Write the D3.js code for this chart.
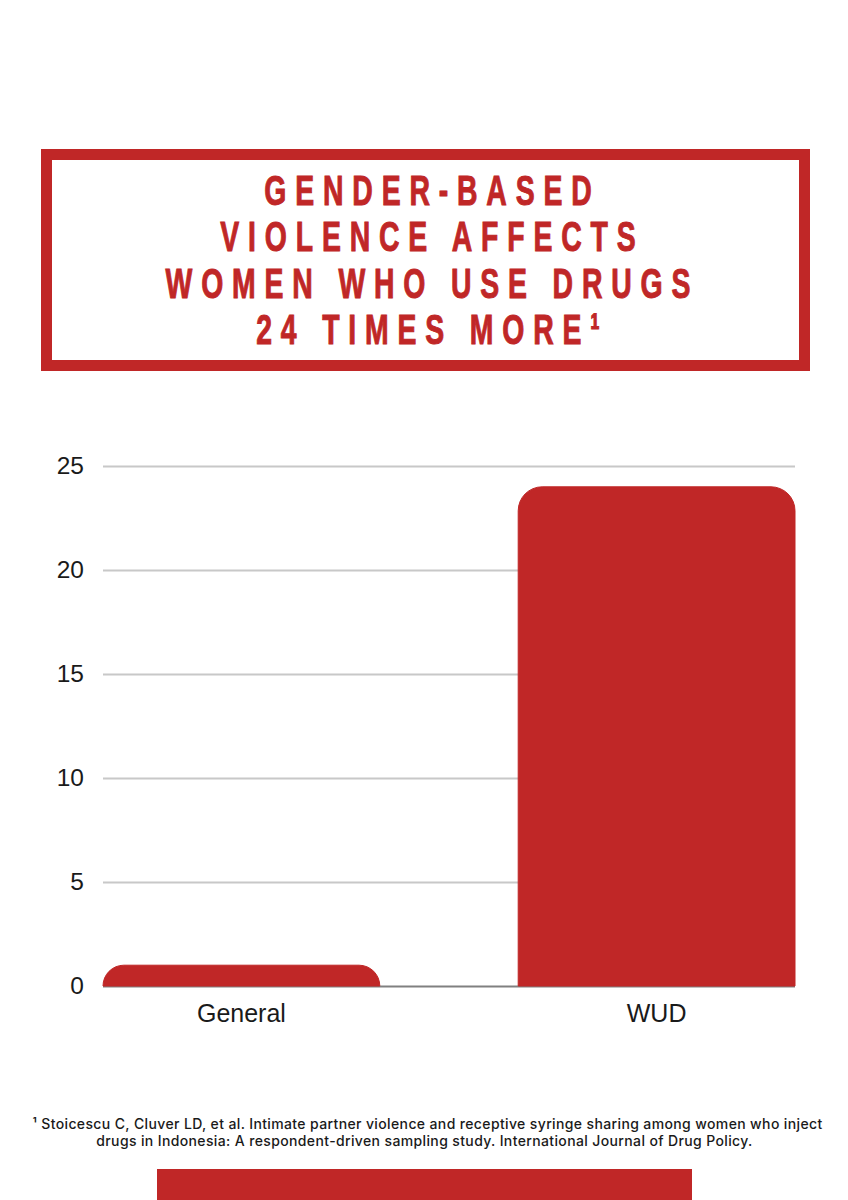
<!DOCTYPE html>
<html>
<head>
<meta charset="utf-8">
<script src="https://cdn.jsdelivr.net/npm/d3@7"></script>
<style>
html, body { margin: 0; padding: 0; background: #fff; }
svg { display: block; }
</style>
</head>
<body>
<div id="chart"></div>
<script>
// Chart data
const categories = ["General", "WUD"];
const values = [1, 24];
const yTicks = [0, 5, 10, 15, 20, 25];
const titleLines = ["GENDER-BASED", "VIOLENCE AFFECTS", "WOMEN WHO USE DRUGS", "24 TIMES MORE¹"];
const footnoteLines = [
    "¹ Stoicescu C, Cluver LD, et al. Intimate partner violence and receptive syringe sharing among women who inject",
    "drugs in Indonesia: A respondent-driven sampling study. International Journal of Drug Policy."
];

const red = "#c02727";
const width = 848, height = 1200;

const svg = d3.select("#chart").append("svg")
    .attr("width", width)
    .attr("height", height);

// Title box
svg.append("rect")
    .attr("x", 46.5)
    .attr("y", 154.5)
    .attr("width", 758)
    .attr("height", 211)
    .attr("fill", "#fff")
    .attr("stroke", red)
    .attr("stroke-width", 11);

// No condensed font installed, so squeeze Liberation Sans bold horizontally
const titleBaselines = [205, 251, 298, 344];
const titleScale = 0.66;
const titleSpacing = 13.4;
svg.selectAll(".title")
    .data(titleLines)
    .enter()
    .append("text")
    .attr("class", "title")
    .attr("transform", (d, i) => `translate(${428 + titleSpacing * titleScale / 2}, ${titleBaselines[i]}) scale(${titleScale}, 1)`)
    .attr("text-anchor", "middle")
    .attr("fill", red)
    .attr("stroke", red)
    .attr("stroke-width", 1)
    .style("font-family", "'Liberation Sans', sans-serif")
    .style("font-weight", "bold")
    .style("font-size", "43px")
    .style("letter-spacing", titleSpacing + "px")
    .text(d => d);

// Scales
const x = d3.scaleBand().domain(categories).range([103, 795]).paddingInner(1 / 3).paddingOuter(0);
const y = d3.scaleLinear().domain([0, 25]).range([986, 466]);

// Y axis with gridlines
const yAxis = d3.axisLeft(y).tickValues(yTicks).tickSize(0).tickPadding(19);
const yG = svg.append("g").attr("transform", "translate(103, 0)").call(yAxis);
yG.select(".domain").remove();
yG.selectAll("text")
    .style("font-family", "'Liberation Sans', Arial, sans-serif")
    .style("font-size", "24.5px")
    .attr("fill", "#1a1a1a");
yG.selectAll(".tick").append("line")
    .attr("x1", 0)
    .attr("x2", 692)
    .attr("stroke", d => d === 0 ? "#808080" : "#c8c8c8")
    .attr("stroke-width", 2);

// Bars, only the top corners are rounded
const barPath = (d, i) => {
    const x0 = x(categories[i]), x1 = x0 + x.bandwidth();
    const top = y(d), base = y(0);
    const r = Math.min(24, base - top);
    return `M${x0},${base}V${top + r}A${r},${r} 0 0 1 ${x0 + r},${top}H${x1 - r}A${r},${r} 0 0 1 ${x1},${top + r}V${base}Z`;
};
svg.selectAll(".bar")
    .data(values)
    .enter()
    .append("path")
    .attr("class", "bar")
    .attr("d", barPath)
    .attr("fill", red)
    .attr("stroke", red)
    .attr("stroke-width", 1);

// X axis
const xAxis = d3.axisBottom(x).tickSize(0).tickPadding(18);
const xG = svg.append("g").attr("transform", "translate(0, 986)").call(xAxis);
xG.select(".domain").remove();
xG.selectAll("text")
    .style("font-family", "'Liberation Sans', Arial, sans-serif")
    .style("font-size", "25px")
    .attr("fill", "#1a1a1a");

// Footnote
const footBaselines = [1129, 1146];
const footCentres = [427.5, 424.5];
svg.selectAll(".foot")
    .data(footnoteLines)
    .enter()
    .append("text")
    .attr("class", "foot")
    .attr("x", (d, i) => footCentres[i])
    .attr("y", (d, i) => footBaselines[i])
    .attr("text-anchor", "middle")
    .attr("fill", "#1a1a1a")
    .style("font-family", "Inter, 'Open Sans', sans-serif")
    .style("font-weight", "500")
    .style("font-size", "14px")
    .style("letter-spacing", "0.37px")
    .text(d => d);

// Red block cut off at the bottom edge
svg.append("rect")
    .attr("x", 157)
    .attr("y", 1169)
    .attr("width", 535)
    .attr("height", 31)
    .attr("fill", red);
</script>
</body>
</html>
